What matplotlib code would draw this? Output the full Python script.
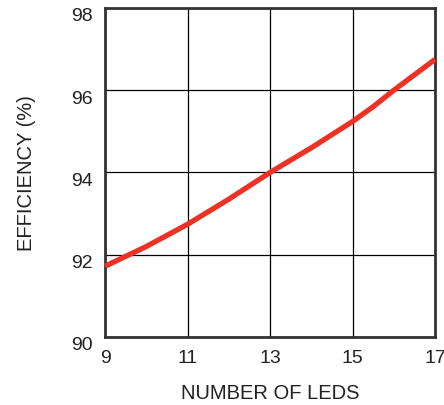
import matplotlib
matplotlib.use('Agg')
import matplotlib.pyplot as plt
import matplotlib.transforms as mtransforms

# data
leds = [9, 10, 11, 12, 13, 14, 15, 15.5, 16, 17]
efficiency = [91.72, 92.2, 92.74, 93.35, 94.0, 94.6, 95.24, 95.6, 96.0, 96.75]

xticks = [9, 11, 13, 15, 17]
yticks = [90, 92, 94, 96, 98]

plt.rcParams['font.family'] = ['Liberation Sans', 'DejaVu Sans']

fig = plt.figure(figsize=(4.44, 4.06), dpi=100)
ax = fig.add_axes([0.2365, 0.1675, 0.7435, 0.8105])

ax.plot(leds, efficiency, color='#EE3124', linewidth=3.8,
        solid_capstyle='butt', zorder=3, clip_on=False)

ax.set_xlim(9, 17)
ax.set_ylim(90, 98)
ax.set_xticks(xticks)
ax.set_yticks(yticks)
ax.grid(True, color='black', linewidth=0.9)
ax.tick_params(length=0, labelsize=14, colors='#222222')
ax.tick_params(axis='x', pad=9)
ax.tick_params(axis='y', pad=9)

for sp in ax.spines.values():
    sp.set_linewidth(2.0)
    sp.set_color('#333333')

# y labels sit a bit below their gridlines
offset = mtransforms.ScaledTranslation(0, -6 / 100, fig.dpi_scale_trans)
for lbl in ax.get_yticklabels():
    lbl.set_transform(lbl.get_transform() + offset)

ax.set_xlabel('NUMBER OF LEDS', fontsize=14.5, color='#222222', labelpad=12)
ax.set_ylabel('EFFICIENCY (%)', fontsize=14.5, color='#222222', labelpad=25)

fig.savefig('out.png', dpi=100)
